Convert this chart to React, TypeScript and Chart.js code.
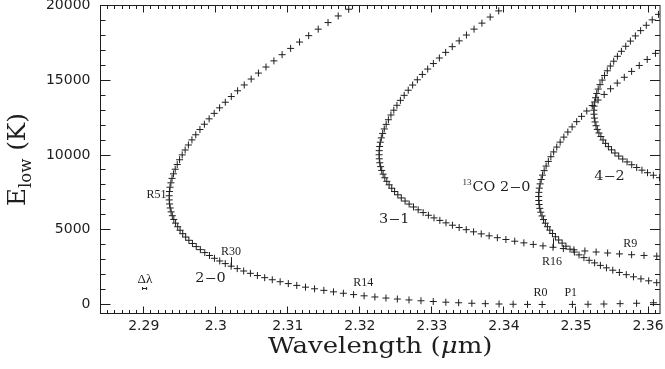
import React, { useEffect, useRef } from "react";
import { Chart, registerables } from "chart.js";

Chart.register(...registerables);

// ---------------- data (wavelength in micron, lower-level energy in K) ----------------
// 12CO v=2-0, R branch R0..R85
const co20RWavelength = [
  2.345303, 2.343268, 2.341274, 2.33932, 2.337413, 2.335544, 2.333715, 2.331931, 2.330187, 2.328482,
  2.326822, 2.325202, 2.323622, 2.322084, 2.320588, 2.31913, 2.317712, 2.316338, 2.315004, 2.313709,
  2.312453, 2.31124, 2.310069, 2.308936, 2.307842, 2.306788, 2.305777, 2.304806, 2.303874, 2.302982,
  2.30213, 2.301317, 2.300548, 2.299818, 2.299127, 2.298476, 2.297865, 2.297294, 2.296762, 2.296271,
  2.295821, 2.295412, 2.295043, 2.294714, 2.294425, 2.294177, 2.293969, 2.293802, 2.293675, 2.293589,
  2.293543, 2.293538, 2.293574, 2.293651, 2.293769, 2.293928, 2.294128, 2.29437, 2.294653, 2.294977,
  2.295342, 2.29575, 2.296198, 2.296691, 2.297225, 2.297801, 2.29842, 2.299081, 2.299784, 2.300532,
  2.301321, 2.302153, 2.30303, 2.303951, 2.304914, 2.30592, 2.306971, 2.308068, 2.309209, 2.310394,
  2.311621, 2.312897, 2.314219, 2.315584, 2.316994, 2.318453,
];
const co20RElow = [
  0, 5.5, 16.6, 33.2, 55.3, 83.0, 116.2, 154.9, 199.1, 248.9,
  304.2, 365.0, 431.3, 503.1, 580.5, 663.4, 751.7, 845.6, 945.0, 1049.8,
  1160.2, 1276.1, 1397.4, 1524.2, 1656.5, 1794.2, 1937.5, 2086.1, 2240.3, 2399.8,
  2564.8, 2735.3, 2911.2, 3092.5, 3279.2, 3471.3, 3668.8, 3871.7, 4080.0, 4293.7,
  4512.7, 4737.1, 4966.8, 5201.9, 5442.3, 5688.1, 5939.1, 6195.5, 6457.1, 6724.1,
  6996.2, 7273.7, 7556.4, 7844.4, 8137.6, 8436.0, 8739.6, 9048.4, 9362.4, 9681.6,
  10005.9, 10335.4, 10670.0, 11009.7, 11354.5, 11704.4, 12059.4, 12419.5, 12784.6, 13154.8,
  13529.9, 13910.1, 14295.3, 14685.4, 15080.5, 15480.6, 15885.6, 16295.5, 16710.2, 17129.9,
  17554.5, 17983.8, 18418.1, 18857.1, 19300.9, 19749.5,
];
// 12CO v=2-0, P branch P1..P6
const co20PWavelength = [2.349502, 2.351666, 2.353872, 2.356119, 2.358413, 2.360745];
const co20PElow = [5.5, 16.6, 33.2, 55.3, 83.0, 116.2];

// 12CO v=3-1, R branch R7..R78
const co31Wavelength = [
  2.361211, 2.359445, 2.357719, 2.356032, 2.354392, 2.352793, 2.351233, 2.349716, 2.348244, 2.346811,
  2.345419, 2.344069, 2.342762, 2.341496, 2.34027, 2.339085, 2.337945, 2.336845, 2.335785, 2.334765,
  2.333786, 2.33285, 2.331956, 2.331103, 2.330289, 2.329516, 2.328785, 2.328094, 2.327447, 2.326841,
  2.326275, 2.32575, 2.325266, 2.324823, 2.324422, 2.324061, 2.323742, 2.323464, 2.323228, 2.323033,
  2.32288, 2.322768, 2.322698, 2.322671, 2.322684, 2.322741, 2.322838, 2.322978, 2.323161, 2.323386,
  2.323653, 2.323963, 2.324315, 2.32471, 2.325147, 2.325627, 2.32615, 2.326716, 2.327325, 2.327977,
  2.328674, 2.329415, 2.330204, 2.331034, 2.331907, 2.332823, 2.333785, 2.334795, 2.335849, 2.336946,
  2.338089, 2.339275,
];
const co31Elow = [
  3237.1, 3281.0, 3330.3, 3385.1, 3445.3, 3511.1, 3582.2, 3658.9, 3741.0, 3828.6,
  3921.6, 4020.0, 4124.0, 4233.3, 4348.1, 4468.3, 4594.0, 4725.1, 4861.5, 5003.5,
  5150.8, 5303.5, 5461.6, 5625.1, 5794.0, 5968.3, 6147.9, 6332.9, 6523.2, 6718.9,
  6920.0, 7126.4, 7338.1, 7555.1, 7777.4, 8005.0, 8237.9, 8476.1, 8719.6, 8968.4,
  9222.3, 9481.6, 9746.0, 10015.7, 10290.6, 10570.7, 10856.0, 11146.5, 11442.1, 11742.9,
  12048.9, 12359.9, 12676.1, 12997.4, 13323.8, 13655.3, 13991.8, 14333.4, 14680.1, 15031.8,
  15388.5, 15750.1, 16116.8, 16488.5, 16865.1, 17246.6, 17633.1, 18024.4, 18420.7, 18821.9,
  19227.9, 19638.8,
];

// 12CO v=4-2, R branch R29..R70
const co42Wavelength = [
  2.361595, 2.36074, 2.359928, 2.359156, 2.358426, 2.357738, 2.357092, 2.356488, 2.355926, 2.355406,
  2.35493, 2.354496, 2.354105, 2.353755, 2.353448, 2.353182, 2.35296, 2.35278, 2.352642, 2.352547,
  2.352495, 2.352486, 2.35252, 2.352597, 2.352716, 2.352879, 2.353085, 2.353335, 2.353628, 2.353964,
  2.354344, 2.354767, 2.355235, 2.355746, 2.356304, 2.356905, 2.357551, 2.358241, 2.358975, 2.359754,
  2.360581, 2.361449,
];
const co42Elow = [
  8485.3, 8647.3, 8814.6, 8987.2, 9165.2, 9348.5, 9537.1, 9731.0, 9930.1, 10134.6,
  10344.3, 10559.3, 10779.6, 11005.1, 11235.9, 11471.8, 11713.0, 11959.5, 12211.1, 12467.9,
  12729.9, 12997.1, 13269.4, 13546.9, 13829.5, 14117.2, 14410.1, 14708.1, 15011.2, 15319.3,
  15632.5, 15950.8, 16274.1, 16602.5, 16935.8, 17274.2, 17617.6, 17965.9, 18319.3, 18677.5,
  19040.7, 19408.8,
];

// 13CO v=2-0, R branch R23..R80
const co13Wavelength = [
  2.361202, 2.360089, 2.359015, 2.357979, 2.356981, 2.356022, 2.355104, 2.354226, 2.353387, 2.352586,
  2.351824, 2.351101, 2.350417, 2.349774, 2.34917, 2.348605, 2.348079, 2.347592, 2.347144, 2.346736,
  2.346366, 2.346036, 2.345746, 2.345494, 2.345282, 2.34511, 2.344977, 2.344885, 2.344832, 2.344819,
  2.344846, 2.344913, 2.34502, 2.345168, 2.345355, 2.345583, 2.345851, 2.34616, 2.346509, 2.346899,
  2.34733, 2.347802, 2.348314, 2.348867, 2.349462, 2.350097, 2.350776, 2.351497, 2.352259, 2.353064,
  2.35391, 2.354797, 2.355728, 2.356703, 2.357721, 2.358781, 2.359884, 2.361029,
];
const co13Elow = [
  1457.3, 1583.7, 1715.5, 1852.4, 1994.6, 2141.9, 2294.5, 2452.3, 2615.3, 2783.5,
  2956.9, 3135.4, 3319.2, 3508.1, 3702.1, 3901.3, 4105.7, 4315.2, 4529.8, 4749.5,
  4974.4, 5204.4, 5439.4, 5679.6, 5924.8, 6175.1, 6430.5, 6690.9, 6956.3, 7226.8,
  7502.3, 7782.9, 8068.4, 8358.9, 8654.4, 8954.9, 9260.3, 9570.7, 9886.0, 10206.2,
  10531.4, 10861.4, 11196.4, 11536.2, 11880.8, 12230.3, 12584.7, 12943.9, 13307.8, 13676.6,
  14050.2, 14428.5, 14811.6, 15199.4, 15591.9, 15989.2, 16391.1, 16797.8,
];

// axes
const xMin = 2.284;
const xMax = 2.36166;
const yMin = -602;
const yMax = 20000;
const xTickValues = [2.29, 2.3, 2.31, 2.32, 2.33, 2.34, 2.35, 2.36];
const xTickLabels = ["2.29", "2.3", "2.31", "2.32", "2.33", "2.34", "2.35", "2.36"];
const yTickValues = [0, 5000, 10000, 15000, 20000];
const yTickLabels = ["0", "5000", "10000", "15000", "20000"];

// line identification labels
const lineLabelTexts = ["R51", "R30", "R14", "R0", "P1", "R16", "R9"];
const lineLabelWavelength = [2.29178, 2.30211, 2.32048, 2.34507, 2.34927, 2.34668, 2.35753];
const lineLabelElow = [7324, 3532, 1418, 749, 749, 2843, 4027];

// band labels
const bandLabelSup = ["", "", "13", ""];
const bandLabelTexts = ["2\u22120", "3\u22121", "CO 2\u22120", "4\u22122"];
const bandLabelWavelength = [2.29927, 2.32477, 2.33896, 2.35464];
const bandLabelElow = [1706, 5672, 7773, 8548];

// marked lines (series name, index in that series)
const markedSeries = ["co20R", "co31"];
const markedIndex = [30, 9];

// resolution element
const resolutionText = "\u0394\u03bb";
const resolutionTextPos = [2.29016, 1639];
const resolutionBar = [2.28984, 2.2904];
const resolutionBarElow = 1084;

const INK = "#1e1e1e";

const toPoints = (xs: number[], ys: number[]) => xs.map((x, i) => ({ x, y: ys[i] }));

const seriesMap: Record<string, { xs: number[]; ys: number[] }> = {
  co20R: { xs: co20RWavelength, ys: co20RElow },
  co20P: { xs: co20PWavelength, ys: co20PElow },
  co31: { xs: co31Wavelength, ys: co31Elow },
  co42: { xs: co42Wavelength, ys: co42Elow },
  co13: { xs: co13Wavelength, ys: co13Elow },
};

function stretchText(ctx: CanvasRenderingContext2D, text: string, x: number, y: number, font: string, sx: number, align: CanvasTextAlign, baseline: CanvasTextBaseline) {
  ctx.save();
  ctx.font = font;
  ctx.translate(x, y);
  ctx.scale(sx, 1);
  ctx.textAlign = align;
  ctx.textBaseline = baseline;
  ctx.fillText(text, 0, 0);
  ctx.restore();
}

const overlayPlugin = {
  id: "overlay",
  afterDatasetsDraw(chart: any) {
    const { ctx, chartArea: a } = chart;
    const xs = chart.scales.x;
    const ys = chart.scales.y;
    ctx.save();
    ctx.strokeStyle = INK;
    ctx.fillStyle = INK;
    ctx.lineWidth = 1;

    // frame
    ctx.strokeRect(a.left, a.top, a.right - a.left, a.bottom - a.top);

    const crisp = (p: number) => Math.round(p - 0.5) + 0.5;
    ctx.beginPath();
    // x ticks
    for (let k = Math.ceil(xMin * 1000); k <= Math.floor(xMax * 1000); k++) {
      const major = k % 10 === 0;
      const len = major ? 7 : 3.5;
      const px = crisp(xs.getPixelForValue(k / 1000));
      ctx.moveTo(px, a.bottom);
      ctx.lineTo(px, a.bottom - len);
      ctx.moveTo(px, a.top);
      ctx.lineTo(px, a.top + len);
    }
    // y ticks
    for (let v = 0; v <= yMax; v += 1000) {
      const major = v % 5000 === 0;
      const len = major ? 10 : 5;
      const py = crisp(ys.getPixelForValue(v));
      ctx.moveTo(a.left, py);
      ctx.lineTo(a.left + len, py);
      ctx.moveTo(a.right, py);
      ctx.lineTo(a.right - len, py);
    }
    ctx.stroke();

    // marked lines
    ctx.beginPath();
    markedSeries.forEach((name, i) => {
      const s = seriesMap[name];
      const px = crisp(xs.getPixelForValue(s.xs[markedIndex[i]]));
      const py = ys.getPixelForValue(s.ys[markedIndex[i]]);
      ctx.moveTo(px, py - 9);
      ctx.lineTo(px, py + 1);
    });
    ctx.stroke();

    // resolution element
    const bx0 = xs.getPixelForValue(resolutionBar[0]);
    const bx1 = xs.getPixelForValue(resolutionBar[1]);
    const by = crisp(ys.getPixelForValue(resolutionBarElow));
    ctx.beginPath();
    ctx.moveTo(bx0, by);
    ctx.lineTo(bx1, by);
    ctx.moveTo(bx0, by - 1.5);
    ctx.lineTo(bx0, by + 1.5);
    ctx.moveTo(bx1, by - 1.5);
    ctx.lineTo(bx1, by + 1.5);
    ctx.stroke();
    stretchText(ctx, resolutionText, xs.getPixelForValue(resolutionTextPos[0]), ys.getPixelForValue(resolutionTextPos[1]), '12px "Liberation Serif"', 1.1, "center", "middle");

    // line labels
    lineLabelTexts.forEach((t, i) => {
      stretchText(ctx, t, xs.getPixelForValue(lineLabelWavelength[i]), ys.getPixelForValue(lineLabelElow[i]), '12px "Liberation Serif"', 1.0, "center", "middle");
    });

    // band labels
    const bandFont = '12px "DejaVu Serif"';
    const supFont = '9px "Liberation Serif"';
    const bsx = 1.2;
    bandLabelTexts.forEach((t, i) => {
      const cx = xs.getPixelForValue(bandLabelWavelength[i]);
      const cy = ys.getPixelForValue(bandLabelElow[i]);
      ctx.font = bandFont;
      const wMain = ctx.measureText(t).width * bsx;
      let wSup = 0;
      if (bandLabelSup[i]) {
        ctx.font = supFont;
        wSup = ctx.measureText(bandLabelSup[i]).width + 1;
      }
      const x0 = cx - (wMain + wSup) / 2;
      if (bandLabelSup[i]) {
        stretchText(ctx, bandLabelSup[i], x0, cy - 5.5, supFont, 1, "left", "middle");
      }
      stretchText(ctx, t, x0 + wSup, cy, bandFont, bsx, "left", "middle");
    });

    // x axis title: Wavelength (μm)
    {
      const f = '23px "DejaVu Serif"';
      const fi = 'italic 23px "DejaVu Serif"';
      const sx = 1.13;
      const parts: [string, string][] = [["Wavelength (", f], ["\u03bc", fi], ["m)", f]];
      let total = 0;
      const widths = parts.map(([t, font]) => {
        ctx.font = font;
        const w = ctx.measureText(t).width * sx;
        total += w;
        return w;
      });
      let x = (a.left + a.right) / 2 - total / 2;
      parts.forEach(([t, font], i) => {
        stretchText(ctx, t, x, 352.5, font, sx, "left", "alphabetic");
        x += widths[i];
      });
    }

    // y axis title: E_low (K)
    {
      const f = '24px "DejaVu Serif"';
      const fs = '16px "DejaVu Serif"';
      const sx = 1.03;
      ctx.save();
      ctx.translate(25, (a.top + a.bottom) / 2);
      ctx.rotate(-Math.PI / 2);
      const parts: [string, string, number][] = [["E", f, 0], ["low", fs, 6], [" (K)", f, 0]];
      let total = 0;
      const widths = parts.map(([t, font]) => {
        ctx.font = font;
        const w = ctx.measureText(t).width * sx;
        total += w;
        return w;
      });
      let x = -total / 2;
      parts.forEach(([t, font, dy], i) => {
        stretchText(ctx, t, x, dy, font, sx, "left", "alphabetic");
        x += widths[i];
      });
      ctx.restore();
    }

    ctx.restore();
  },
};

export default function App() {
  const canvasRef = useRef<HTMLCanvasElement | null>(null);

  useEffect(() => {
    if (!canvasRef.current) return;
    const pointStyle = {
      pointStyle: "cross" as const,
      pointRadius: 3.5,
      pointBorderWidth: 1,
      pointBorderColor: INK,
      pointBackgroundColor: INK,
      showLine: false,
    };
    const chart = new Chart(canvasRef.current, {
      type: "scatter",
      data: {
        datasets: [
          { label: "12CO 2-0 R", data: toPoints(co20RWavelength, co20RElow), ...pointStyle },
          { label: "12CO 2-0 P", data: toPoints(co20PWavelength, co20PElow), ...pointStyle },
          { label: "12CO 3-1", data: toPoints(co31Wavelength, co31Elow), ...pointStyle },
          { label: "12CO 4-2", data: toPoints(co42Wavelength, co42Elow), ...pointStyle },
          { label: "13CO 2-0", data: toPoints(co13Wavelength, co13Elow), ...pointStyle },
        ],
      },
      options: {
        responsive: false,
        animation: false,
        devicePixelRatio: 1,
        events: [],
        layout: { padding: { top: 5.5, right: 3.5, left: 0, bottom: 0 } },
        plugins: {
          legend: { display: false },
          tooltip: { enabled: false },
          title: { display: false },
        },
        scales: {
          x: {
            type: "linear",
            min: xMin,
            max: xMax,
            grid: { display: false, drawTicks: false },
            border: { display: false },
            ticks: {
              color: INK,
              font: { family: "DejaVu Sans", size: 14 },
              padding: 4,
              maxRotation: 0,
              autoSkip: false,
              callback: (value: any) => {
                const i = xTickValues.findIndex((t) => Math.abs(t - Number(value)) < 1e-9);
                return i >= 0 ? xTickLabels[i] : "";
              },
            },
            afterBuildTicks: (s: any) => {
              s.ticks = xTickValues.map((v) => ({ value: v }));
            },
            afterFit: (s: any) => {
              s.height = 55.5;
              s.paddingLeft = 0;
              s.paddingRight = 0;
            },
          },
          y: {
            type: "linear",
            min: yMin,
            max: yMax,
            grid: { display: false, drawTicks: false },
            border: { display: false },
            ticks: {
              color: INK,
              font: { family: "DejaVu Sans", size: 14 },
              padding: 10,
              autoSkip: false,
              callback: (value: any) => {
                const i = yTickValues.findIndex((t) => Math.abs(t - Number(value)) < 1e-6);
                return i >= 0 ? yTickLabels[i] : "";
              },
            },
            afterBuildTicks: (s: any) => {
              s.ticks = yTickValues.map((v) => ({ value: v }));
            },
            afterFit: (s: any) => {
              s.width = 100.5;
              s.paddingTop = 0;
              s.paddingBottom = 0;
            },
          },
        },
      },
      plugins: [overlayPlugin],
    });
    return () => chart.destroy();
  }, []);

  return (
    <div style={{ position: "fixed", left: 0, top: 0, width: 665, height: 369, background: "#fff" }}>
      <canvas ref={canvasRef} width={665} height={369} style={{ display: "block", width: 665, height: 369 }} />
    </div>
  );
}
